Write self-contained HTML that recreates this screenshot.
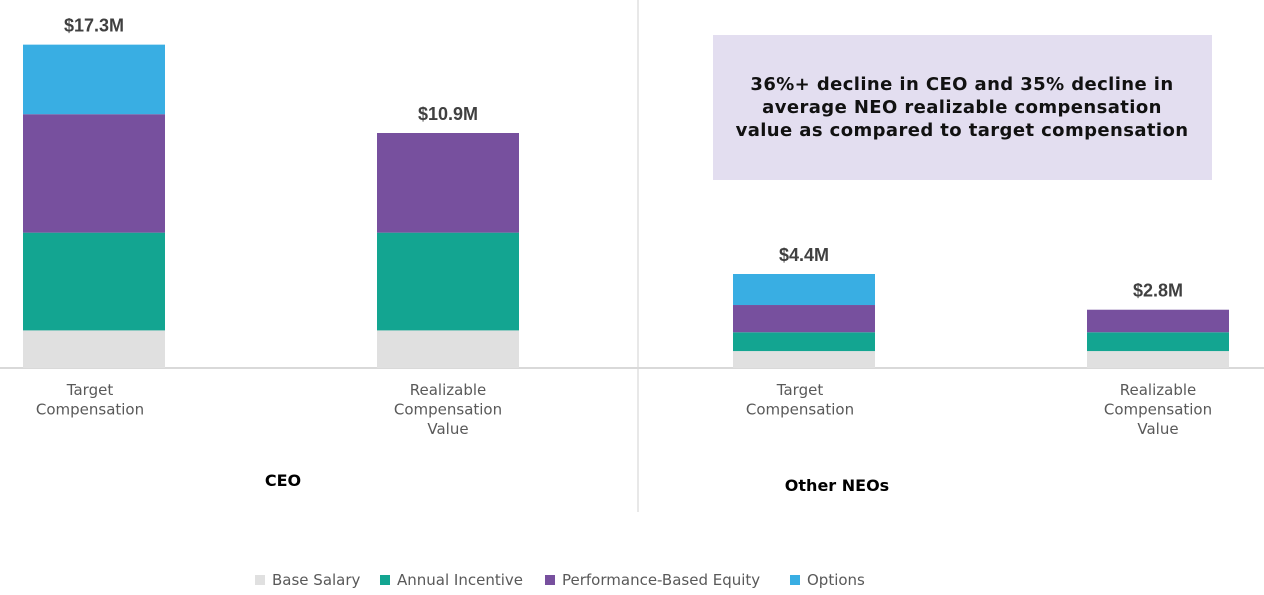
<!DOCTYPE html>
<html><head><meta charset="utf-8"><style>
body{margin:0;background:#fff;width:1264px;height:590px;overflow:hidden;font-family:"Liberation Sans",sans-serif}
</style></head><body>
<svg id="chart" width="1264" height="590" xmlns="http://www.w3.org/2000/svg" font-family="Liberation Sans, sans-serif"></svg>
<script>
const categories=["Target Compensation","Realizable Compensation Value","Target Compensation","Realizable Compensation Value"];
const categoryLines=[["Target","Compensation"],["Realizable","Compensation","Value"],["Target","Compensation"],["Realizable","Compensation","Value"]];
const seriesNames=["Base Salary","Annual Incentive","Performance-Based Equity","Options"];
const baseSalary=[2.0,2.0,0.9,0.9];
const annualIncentive=[5.2,5.2,1.0,1.0];
const perfEquity=[6.3,5.3,1.45,1.2];
const options=[3.7,0,1.65,0];
const totalLabels=["$17.3M","$10.9M","$4.4M","$2.8M"];
const colors=["#e0e0e0","#13a591","#77509e","#39aee3"];
const NS="http://www.w3.org/2000/svg";
const svg=document.getElementById('chart');
function mk(t,a,txt){const e=document.createElementNS(NS,t);for(const k in a)e.setAttribute(k,a[k]);if(txt!==undefined)e.textContent=txt;svg.appendChild(e);return e;}
const baseY=368, pxPerM=18.8, barW=142;
const barX=[23,377,733,1087];
const labelDx=[-4,0,-4,0];
function y(v){return baseY-v*pxPerM;}
let e=mk('line',{x1:638,y1:0,x2:638,y2:512,stroke:'#d0d0d0','stroke-width':1});


e=mk('line',{x1:0,y1:368,x2:1264,y2:368,stroke:'#d9d9d9','stroke-width':2});


const series=[baseSalary,annualIncentive,perfEquity,options];
const segNames=['base-salary','annual-incentive','performance-equity','options'];
categories.forEach((c,i)=>{
  let acc=0;
  series.forEach((s,j)=>{
    const v=s[i]; if(v<=0)return;
    const r=mk('rect',{x:barX[i],y:y(acc+v),width:barW,height:v*pxPerM,fill:colors[j]});
    
    
    acc+=v;
  });
  const t=mk('text',{x:barX[i]+barW/2,y:y(acc)-13,'text-anchor':'middle','font-size':18,'font-weight':'bold',fill:'#404040'},totalLabels[i]);
  
  
  categoryLines[i].forEach((ln,k)=>{
    const l=mk('text',{x:barX[i]+barW/2+labelDx[i],y:395+k*19.5,'text-anchor':'middle','font-size':15,'font-family':'DejaVu Sans, sans-serif',fill:'#595959'},ln);
    
    
  });
});
e=mk('text',{x:283,y:486,'text-anchor':'middle','font-size':16,'font-weight':'bold','font-family':'DejaVu Sans, sans-serif',fill:'#000'},'CEO');


e=mk('text',{x:837,y:491,'text-anchor':'middle','font-size':16,'font-weight':'bold','font-family':'DejaVu Sans, sans-serif',fill:'#000'},'Other NEOs');


e=mk('rect',{x:713,y:35,width:499,height:145,fill:'#e3def0'});


["36%+ decline in CEO and 35% decline in","average NEO realizable compensation","value as compared to target compensation"].forEach((ln,k)=>{
  const t=mk('text',{x:962,y:90+k*23,'text-anchor':'middle','font-size':18,'font-weight':'bold','letter-spacing':'0.4','font-family':'DejaVu Sans, sans-serif',fill:'#111'},ln);
  
  
});
const legX=[255,380,545,790];
seriesNames.forEach((n,j)=>{
  const r=mk('rect',{x:legX[j],y:575,width:10,height:10,fill:colors[j]});
  
  
  const t=mk('text',{x:legX[j]+17,y:585,'font-size':15,'font-family':'DejaVu Sans, sans-serif',fill:'#595959'},n);
  
  
});
</script>
</body></html>
